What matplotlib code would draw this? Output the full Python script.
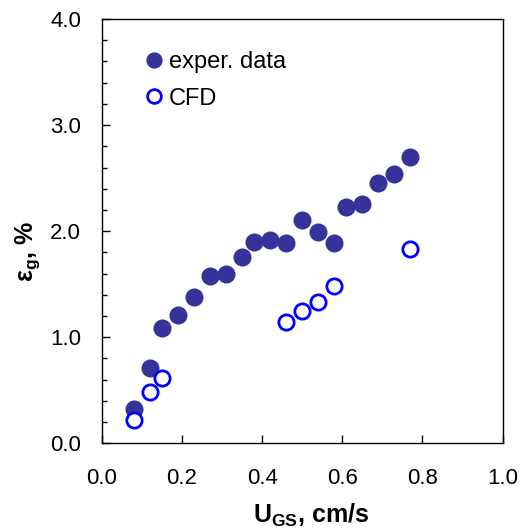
import matplotlib
matplotlib.use("Agg")
import matplotlib.pyplot as plt
from matplotlib.ticker import MultipleLocator

plt.rcParams['font.family'] = ['Liberation Sans', 'DejaVu Sans']
plt.rcParams['mathtext.fontset'] = 'custom'
plt.rcParams['mathtext.rm'] = 'Liberation Sans'
plt.rcParams['mathtext.bf'] = 'Liberation Sans:bold'
plt.rcParams['mathtext.it'] = 'Liberation Sans:italic'

exp_x = [0.08, 0.12, 0.15, 0.19, 0.23, 0.27, 0.31, 0.35, 0.38, 0.42, 0.46, 0.50, 0.54, 0.58, 0.61, 0.65, 0.69, 0.73, 0.77]
exp_y = [0.32, 0.71, 1.09, 1.21, 1.38, 1.58, 1.60, 1.76, 1.90, 1.92, 1.89, 2.11, 1.99, 1.89, 2.23, 2.26, 2.45, 2.54, 2.70]
cfd_x = [0.08, 0.12, 0.15, 0.46, 0.50, 0.54, 0.58, 0.77]
cfd_y = [0.22, 0.48, 0.62, 1.14, 1.25, 1.33, 1.48, 1.83]

xticks = [0.0, 0.2, 0.4, 0.6, 0.8, 1.0]
yticks = [0.0, 1.0, 2.0, 3.0, 4.0]

fig = plt.figure(figsize=(5.2, 5.29), dpi=100)
ax = fig.add_axes([0.1956, 0.162, 0.771, 0.802])

ax.plot(exp_x, exp_y, 'o', color='#333399', markersize=13, markeredgewidth=0, label='exper. data')
ax.plot(cfd_x, cfd_y, 'o', markerfacecolor='white', markeredgecolor='#0000FF', markersize=11, markeredgewidth=2, label='CFD')

ax.set_xlim(0, 1.0)
ax.set_ylim(0, 4.0)
ax.set_xticks(xticks)
ax.set_yticks(yticks)
ax.set_xticklabels([f"{t:.1f}" for t in xticks])
ax.set_yticklabels([f"{t:.1f}" for t in yticks])
ax.yaxis.set_minor_locator(MultipleLocator(0.2))
ax.tick_params(axis='both', which='major', direction='in', length=5.5, width=1, labelsize=16)
ax.tick_params(axis='x', which='major', pad=18)
ax.tick_params(axis='y', which='major', pad=15)
ax.tick_params(axis='y', which='minor', direction='in', length=3.6, width=1)
for s in ax.spines.values():
    s.set_linewidth(1)

ax.set_xlabel(r'U$_{\mathbf{GS}}$, cm/s', fontsize=18, fontweight='bold', va='top')
ax.xaxis.set_label_coords(0.522, -0.138)
ax.set_ylabel(r'$\mathbf{ε_{g}}$, %', fontsize=18, fontweight='bold')
ax.yaxis.set_label_coords(-0.15, 0.451)

leg = ax.legend(loc='upper left', bbox_to_anchor=(0.043, 0.975), frameon=False, fontsize=17,
                handletextpad=0.0, labelspacing=0.62, handlelength=1.2, markerscale=0.9)

fig.savefig('out.png', dpi=100)
